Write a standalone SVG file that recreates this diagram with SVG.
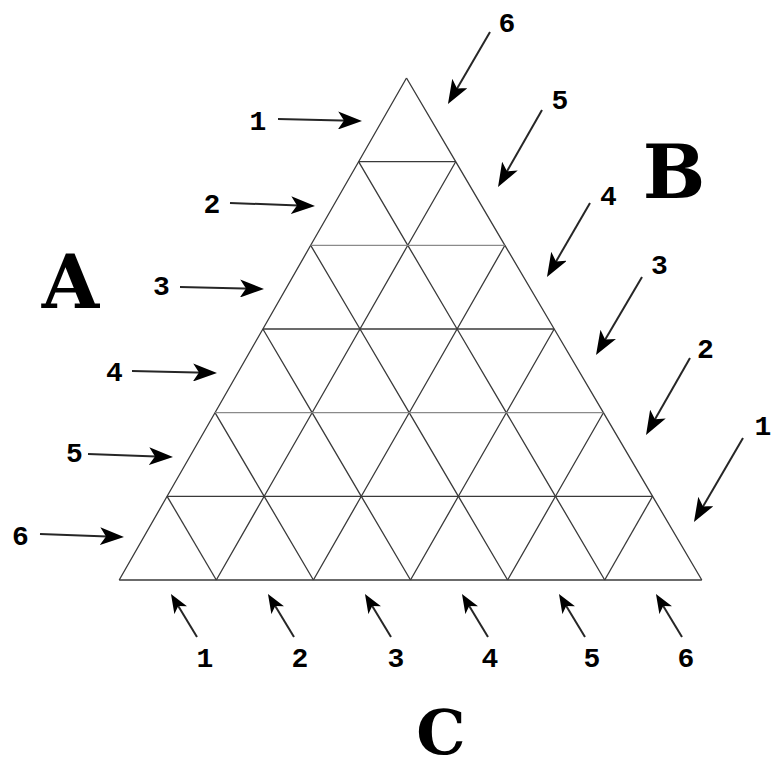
<svg xmlns="http://www.w3.org/2000/svg" width="778" height="783" viewBox="0 0 778 783">
<style>
.bg{fill:#ffffff}
.grid{fill:none;stroke:#3a3a3a;stroke-width:1.3;stroke-linejoin:round}
.grid-light{fill:none;stroke:#8a8a8a;stroke-width:1.3}
.arrow{stroke:#262626;stroke-width:2;fill:none}
.num{font-family:"Liberation Mono","DejaVu Sans Mono",monospace;font-weight:bold;font-size:28px;fill:#000;text-anchor:middle}
.big{font-family:"DejaVu Serif","Liberation Serif",serif;font-weight:bold;fill:#000;text-anchor:middle}
</style>
<defs>
<marker id="head" markerUnits="userSpaceOnUse" viewBox="0 0 24 18" markerWidth="24" markerHeight="18" refX="14" refY="9" orient="auto">
<path d="M0,0 L24,9 L0,18 L6,9 Z" fill="#000"/>
</marker>
<marker id="headS" markerUnits="userSpaceOnUse" viewBox="0 0 19 15" markerWidth="19" markerHeight="15" refX="12" refY="7.5" orient="auto">
<path d="M0,0 L19,7.5 L0,15 L5,7.5 Z" fill="#000"/>
</marker>
</defs>
<rect class="bg" x="0" y="0" width="778" height="783"/>

<g id="grid">
<polyline class="grid" points="406.5,78 358.6,161.7 310.7,245.3 262.9,329 215,412.7 167.1,496.3 119.2,580"/>
<polyline class="grid" points="455.7,161.7 407.8,245.3 360,329 312.1,412.7 264.2,496.3 216.3,580"/>
<polyline class="grid" points="504.9,245.3 457.1,329 409.2,412.7 361.3,496.3 313.4,580"/>
<polyline class="grid" points="554.2,329 506.3,412.7 458.4,496.3 410.5,580"/>
<polyline class="grid" points="603.4,412.7 555.5,496.3 507.6,580"/>
<polyline class="grid" points="652.6,496.3 604.7,580"/>
<polyline class="grid" points="406.5,78 455.7,161.7 504.9,245.3 554.2,329 603.4,412.7 652.6,496.3 701.8,580"/>
<polyline class="grid" points="358.6,161.7 407.8,245.3 457.1,329 506.3,412.7 555.5,496.3 604.7,580"/>
<polyline class="grid" points="310.7,245.3 360,329 409.2,412.7 458.4,496.3 507.6,580"/>
<polyline class="grid" points="262.9,329 312.1,412.7 361.3,496.3 410.5,580"/>
<polyline class="grid" points="215,412.7 264.2,496.3 313.4,580"/>
<polyline class="grid" points="167.1,496.3 216.3,580"/>
<line class="grid" x1="358.6" y1="161.7" x2="455.7" y2="161.7"/>
<line class="grid-light" x1="310.7" y1="245.3" x2="504.9" y2="245.3"/>
<line class="grid" x1="262.9" y1="329" x2="554.2" y2="329"/>
<line class="grid-light" x1="215" y1="412.7" x2="603.4" y2="412.7"/>
<line class="grid" x1="167.1" y1="496.3" x2="652.6" y2="496.3"/>
<line class="grid" x1="119.2" y1="580" x2="701.8" y2="580"/>
</g>

<g id="connectors">
<line class="arrow" marker-end="url(#head)" x1="278" y1="119" x2="352" y2="120.8"/>
<line class="arrow" marker-end="url(#head)" x1="230" y1="203" x2="305" y2="205.7"/>
<line class="arrow" marker-end="url(#head)" x1="180" y1="287" x2="254" y2="288.8"/>
<line class="arrow" marker-end="url(#head)" x1="132" y1="371" x2="207" y2="372.8"/>
<line class="arrow" marker-end="url(#head)" x1="88" y1="454" x2="163" y2="456.7"/>
<line class="arrow" marker-end="url(#head)" x1="40" y1="534" x2="114" y2="536.7"/>

<line class="arrow" marker-end="url(#head)" x1="490" y1="32" x2="453" y2="95.4"/>
<line class="arrow" marker-end="url(#head)" x1="542" y1="110" x2="503" y2="178.3"/>
<line class="arrow" marker-end="url(#head)" x1="590" y1="203" x2="552" y2="268.4"/>
<line class="arrow" marker-end="url(#head)" x1="642" y1="277" x2="601.1" y2="346.4"/>
<line class="arrow" marker-end="url(#head)" x1="690" y1="358" x2="651" y2="426.3"/>
<line class="arrow" marker-end="url(#head)" x1="743" y1="438" x2="699" y2="513.4"/>

<line class="arrow" marker-end="url(#headS)" x1="197" y1="637" x2="174.6" y2="600"/>
<line class="arrow" marker-end="url(#headS)" x1="294" y1="637" x2="271.6" y2="600"/>
<line class="arrow" marker-end="url(#headS)" x1="391" y1="637" x2="368.6" y2="600"/>
<line class="arrow" marker-end="url(#headS)" x1="488" y1="637" x2="465.6" y2="600"/>
<line class="arrow" marker-end="url(#headS)" x1="585" y1="637" x2="562.6" y2="600"/>
<line class="arrow" marker-end="url(#headS)" x1="682" y1="637" x2="659.6" y2="600"/>
</g>

<g id="labels-A">
<text class="num" x="258" y="130">1</text>
<text class="num" x="212" y="213">2</text>
<text class="num" x="161.5" y="295">3</text>
<text class="num" x="114.5" y="381">4</text>
<text class="num" x="74.5" y="462">5</text>
<text class="num" x="20.5" y="545">6</text>
</g>
<g id="labels-B">
<text class="num" x="507" y="32">6</text>
<text class="num" x="560" y="109">5</text>
<text class="num" x="608.5" y="205">4</text>
<text class="num" x="659.5" y="274">3</text>
<text class="num" x="705.5" y="358">2</text>
<text class="num" x="763" y="435">1</text>
</g>
<g id="labels-C">
<text class="num" x="205" y="667">1</text>
<text class="num" x="300" y="667">2</text>
<text class="num" x="396" y="667">3</text>
<text class="num" x="490" y="667">4</text>
<text class="num" x="592" y="667">5</text>
<text class="num" x="686" y="667">6</text>
</g>

<g id="node-A"><text class="big" x="70.5" y="308" font-size="74">A</text></g>
<g id="node-B"><text class="big" x="674" y="198" font-size="74">B</text></g>
<g id="node-C"><text class="big" x="441" y="754" font-size="62">C</text></g>
</svg>
